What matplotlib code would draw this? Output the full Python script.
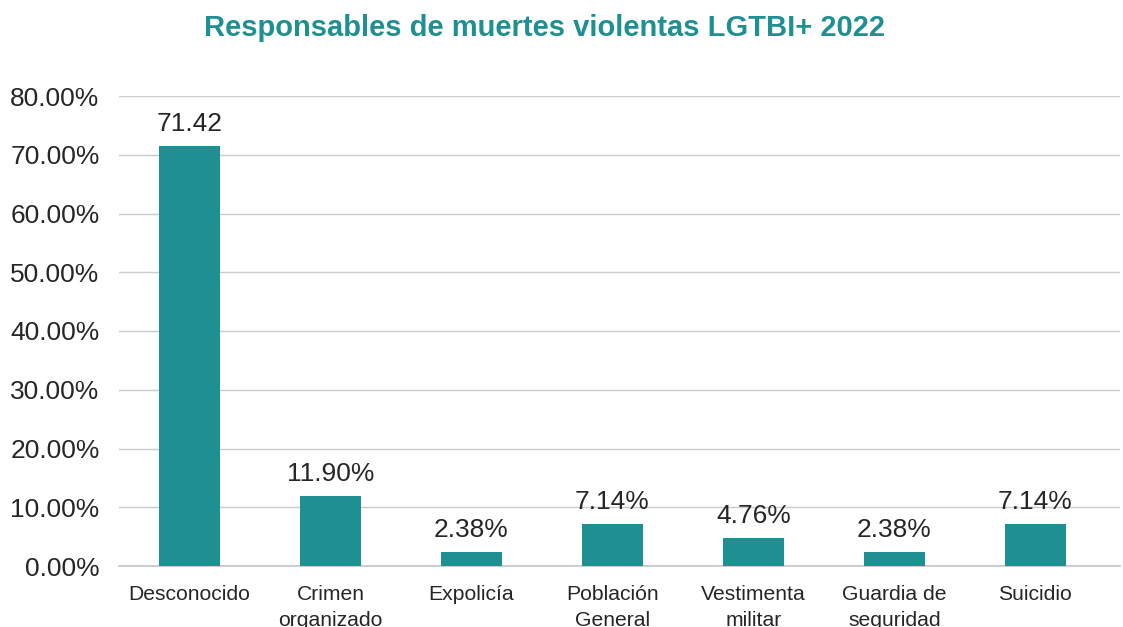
import matplotlib.pyplot as plt
import numpy as np

plt.rcParams['font.family'] = ['Liberation Sans', 'DejaVu Sans']

# Datos
categorias = ['Desconocido', 'Crimen\norganizado', 'Expolicía', 'Población\nGeneral',
              'Vestimenta\nmilitar', 'Guardia de\nseguridad', 'Suicidio']
valores = [71.42, 11.90, 2.38, 7.14, 4.76, 2.38, 7.14]
etiquetas = ['71.42', '11.90%', '2.38%', '7.14%', '4.76%', '2.38%', '7.14%']
yticks = [0, 10, 20, 30, 40, 50, 60, 70, 80]

color = '#1F9092'

fig = plt.figure(figsize=(11.23, 6.27), dpi=100)
ax = fig.add_axes([119/1123, (627-566)/627, (1120-119)/1123, 470/627])

x = np.arange(len(categorias))
ax.bar(x, valores, width=0.43, color=color, zorder=3)
for xi, v, t in zip(x, valores, etiquetas):
    ax.text(xi, v + 1.7, t, ha='center', va='bottom', fontsize=19, color='#262626')

ax.set_xlim(-0.5, 6.6)
ax.set_ylim(0, 80)
ax.set_yticks(yticks)
ax.set_yticklabels(['%.2f%%' % t for t in yticks], fontsize=19, color='#262626')
ax.set_xticks(x)
ax.set_xticklabels(categorias, fontsize=15.2, color='#262626', linespacing=1.42)
ax.tick_params(axis='y', length=0, pad=14)
ax.tick_params(axis='x', length=0, pad=14)
ax.yaxis.grid(True, color='#CBCBCB', linewidth=1.0, zorder=0)
for s in ['top', 'right', 'left']:
    ax.spines[s].set_visible(False)
ax.spines['bottom'].set_color('#C4C4C4')
ax.spines['bottom'].set_linewidth(1.2)

fig.text(545/1123, 1 - 28/627, 'Responsables de muertes violentas LGTBI+ 2022',
         ha='center', va='center', fontsize=21, fontweight='bold', color='#1F9092')

fig.savefig('out.png', dpi=100)
